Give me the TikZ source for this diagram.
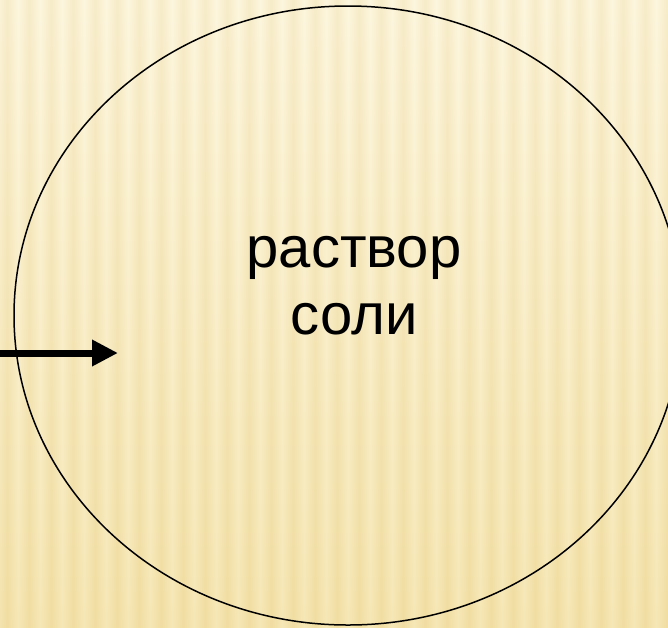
\documentclass[tikz,border=0pt]{standalone}
\usepackage{fontspec}
\setmainfont{Liberation Sans}
\usetikzlibrary{arrows.meta}
\definecolor{bgL}{RGB}{252,242,205}
\definecolor{bgD}{RGB}{243,226,172}
\definecolor{bgB}{RGB}{236,212,140}
\tikzset{
  outline/.style={draw=black, line width=1.5pt},
  label/.style={font=\fontsize{58}{67}\selectfont, align=center, text=black},
  pointer/.style={draw=black, line width=7pt, -{Triangle[length=26pt,width=25pt]}}
}
\begin{document}
\begin{tikzpicture}[x=1pt,y=-1pt]
\useasboundingbox (0,0) rectangle (668,627);
\fill[bgL] (0,0) rectangle (668,627);
\foreach \i in {0,...,30} {
  \shade[left color=bgL, right color=bgL, middle color=bgD] (\i*22-4,0) rectangle ++(22,627);
}
\shade[top color=white, bottom color=bgB, opacity=0.35] (0,0) rectangle (668,627);
\begin{scope}
\clip (0,0) rectangle (668,627);
\draw[outline] (348,315.5) ellipse [x radius=334, y radius=309.5];
\end{scope}
\node[label] (t) at (354,286) {раствор\\соли};
\coordinate (a0) at (0,353);
\coordinate (a1) at (118,353);
\draw[pointer] (a0) -- (a1);
\end{tikzpicture}
\end{document}
